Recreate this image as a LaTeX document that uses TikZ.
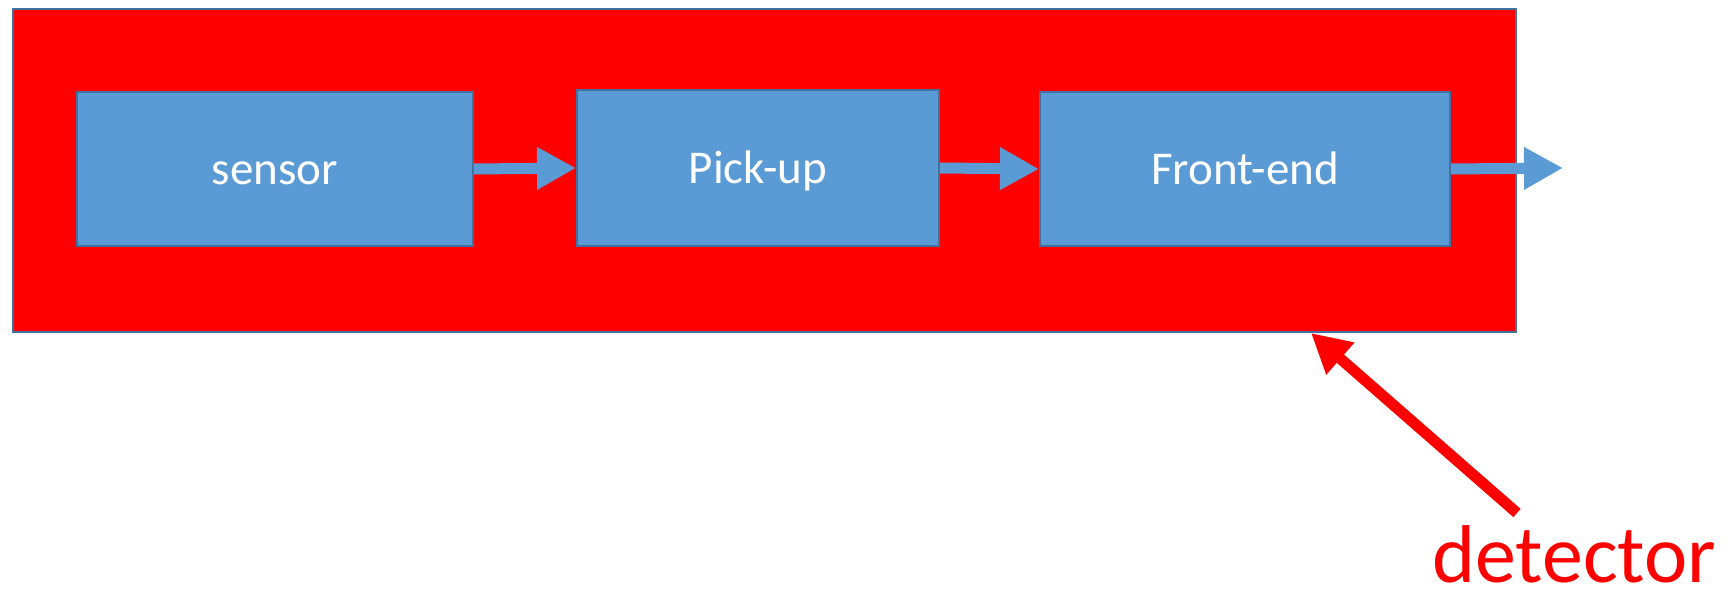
\documentclass[tikz,border=0pt]{standalone}
\usepackage{fontspec}
\setmainfont{Carlito}
\usetikzlibrary{arrows.meta}
\definecolor{boxblue}{HTML}{5B9BD5}
\definecolor{boxedge}{HTML}{41719C}
\tikzset{
  stage/.style={draw=boxedge, line width=1pt, fill=boxblue, text=white,
    inner sep=0pt, text height=16pt, text depth=0pt,
    font=\fontsize{23.5pt}{28pt}\selectfont},
  flow/.style={draw=boxblue, line width=5.5pt,
    -{Triangle[length=19.5pt, width=20pt]}},
  pointer/.style={draw=red, line width=5.5pt,
    -{Triangle[length=19.5pt, width=20pt]}}
}
\begin{document}
\begin{tikzpicture}[x=0.5pt, y=-0.5pt]
  \useasboundingbox (0,0) rectangle (1734,592);
  % detector enclosure
  \node[draw=boxedge, line width=1pt, fill=red, inner sep=0pt,
        minimum width=751.5pt, minimum height=161.5pt] (det) at (764.5,170.5) {};
  % signal chain
  \node[stage, minimum width=198pt, minimum height=77pt] (sensor) at (275,169) {sensor};
  \node[stage, minimum width=181pt, minimum height=78pt] (pickup) at (758,168) {Pick-up};
  \node[stage, minimum width=205pt, minimum height=77pt] (frontend) at (1245,169) {Front-end};
  \coordinate (out) at (1563,168);
  \draw[flow] (sensor.east) -- (pickup.west);
  \draw[flow] (pickup.east) -- (frontend.west);
  \draw[flow] (frontend.east) -- (out);
  % label pointing at the enclosure
  \node[text=red, inner sep=0pt, anchor=base west, text depth=0pt,
        font=\fontsize{41pt}{48pt}\selectfont] (lbl) at (1432,582) {detector};
  \coordinate (tail) at (1517,513);
  \coordinate (tip) at (1311,333);
  \draw[pointer] (tail) -- (tip);
\end{tikzpicture}
\end{document}
